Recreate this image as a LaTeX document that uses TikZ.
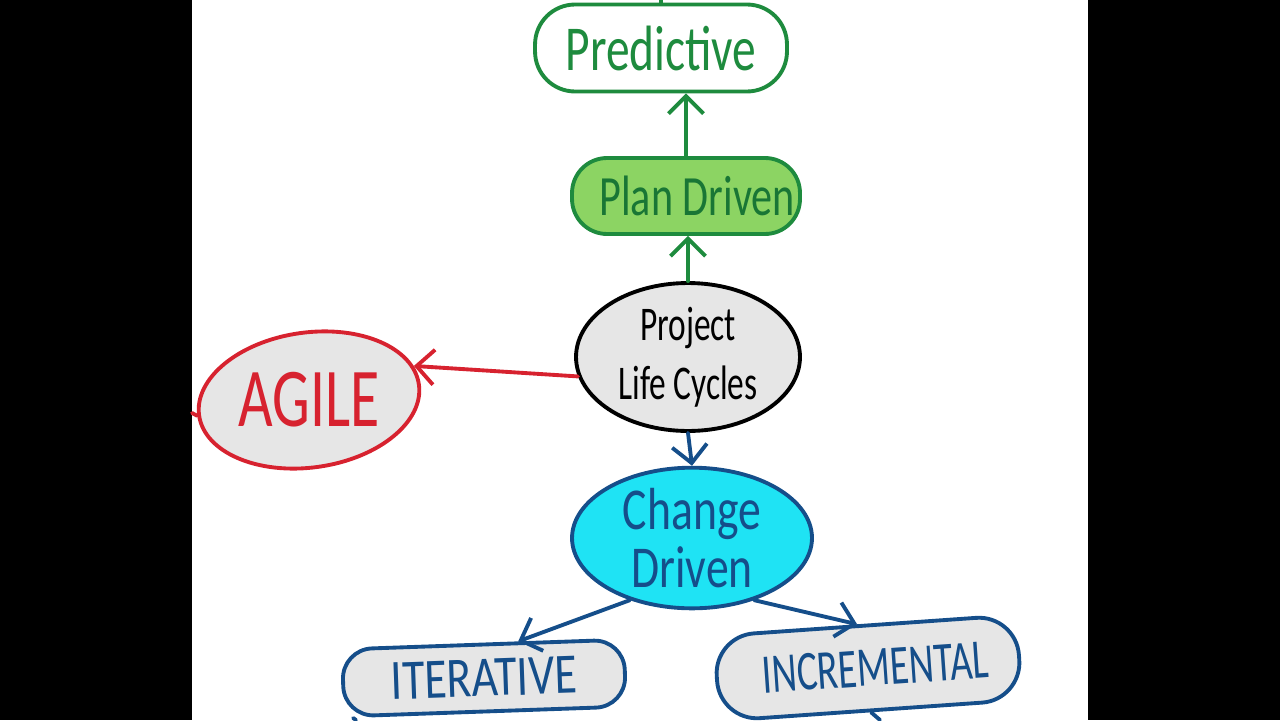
\documentclass[tikz,border=0pt]{standalone}
\usepackage{fontspec}
\usepackage{graphicx}
\setmainfont{Carlito}
\usetikzlibrary{shapes.geometric,arrows.meta,positioning}

\definecolor{pgreen}{HTML}{1E8B3E}
\definecolor{lgreen}{HTML}{8CD463}
\definecolor{pgrey}{HTML}{E6E6E6}
\definecolor{pred}{HTML}{D7222F}
\definecolor{pcyan}{HTML}{1FE3F4}
\definecolor{pblue}{HTML}{154E8A}
\newcommand{\tallx}[2][1.35]{\scalebox{1}[#1]{#2}}

\begin{document}
\begin{tikzpicture}[x=0.02cm, y=-0.02cm, line width=2.2pt, line cap=round, line join=round]

	\tikzstyle{blob}=[draw, rounded corners=0.8cm, inner sep=0pt, align=center];
	\tikzstyle{oval}=[draw, ellipse, inner sep=0pt, align=center];
	\tikzstyle{arrow1}=[-{Straight Barb[length=0.35cm, width=0.7cm]}];
	\tikzstyle{ggline}=[draw=pgreen];
	\tikzstyle{bbline}=[draw=pblue];
	\tikzstyle{rrline}=[draw=pred];

	% frame
	\useasboundingbox (0,0) rectangle (1280,720);
	\fill [black] (0,0) rectangle (192,720);
	\fill [black] (1088,0) rectangle (1280,720);

	% nodes
	\node [blob, draw=pgreen, fill=white, text=pgreen, minimum width=5.04cm, minimum height=1.74cm, font=\fontsize{27}{30}\selectfont]
		(predictive) at (661,48) {\tallx{Predictive}};
	\node [blob, draw=pgreen, fill=lgreen, text=pgreen!85!black, rounded corners=0.7cm, minimum width=4.56cm, minimum height=1.52cm, font=\fontsize{24}{28}\selectfont]
		(plan) at (686,196) {\hspace{0.45cm}\tallx{Plan Driven}};
	\node [oval, draw=black, fill=pgrey, minimum width=4.48cm, minimum height=2.96cm, font=\fontsize{19}{20}\selectfont]
		(project) at (688,357) {\tallx[1.45]{Project}\\[0.3cm]\tallx[1.45]{Life Cycles}};
	\node [oval, draw=pred, fill=pgrey, text=pred, rotate=8, minimum width=4.44cm, minimum height=2.7cm, font=\fontsize{34}{36}\selectfont]
		(agile) at (309,400) {\rotatebox{-8}{\tallx[1.4]{AGILE}}};
	\node [oval, draw=pblue, fill=pcyan, text=pblue, minimum width=4.8cm, minimum height=2.4cm, font=\fontsize{26}{26}\selectfont]
		(change) at (692,538) {\tallx[1.3]{Change}\\[0.1cm]\tallx[1.3]{Driven}};
	\node [blob, draw=pblue, fill=pgrey, text=pblue, rotate=2, rounded corners=0.6cm, minimum width=5.64cm, minimum height=1.34cm, font=\fontsize{26}{28}\selectfont]
		(iterative) at (484,678) {\tallx[1.25]{ITERATIVE}};
	\node [blob, draw=pblue, fill=pgrey, text=pblue, rotate=4, minimum width=6.06cm, minimum height=1.7cm, font=\fontsize{22}{24}\selectfont]
		(incremental) at (868,668) {\hspace{0.3cm}\tallx[1.45]{INCREMENTAL}};

	% connectors
	\draw [arrow1, ggline] (plan.north) -- (plan.north |- predictive.south);
	\draw [arrow1, ggline] (project.north) -- (project.north |- plan.south);
	\draw [arrow1, rrline] (project.190) -- (agile.10);
	\draw [arrow1, bbline] (project.south) -- (change.north);
	\draw [arrow1, bbline] (change.225) -- (iterative.45);
	\draw [arrow1, bbline] (change.-45) -- (incremental.100);

	% stubs leaving the picture
	\coordinate (topout) at (657,0);
	\coordinate (leftout) at (192,413);
	\coordinate (iterout) at (356,720);
	\coordinate (incrout) at (880,720);
	\draw [ggline] (predictive.north) -- (predictive.north |- topout);
	\draw [rrline] (agile.west) -- (leftout);
	\draw [bbline] (iterative.195) -- (iterout);
	\draw [bbline] (incremental.south) -- (incrout);

\end{tikzpicture}
\end{document}
